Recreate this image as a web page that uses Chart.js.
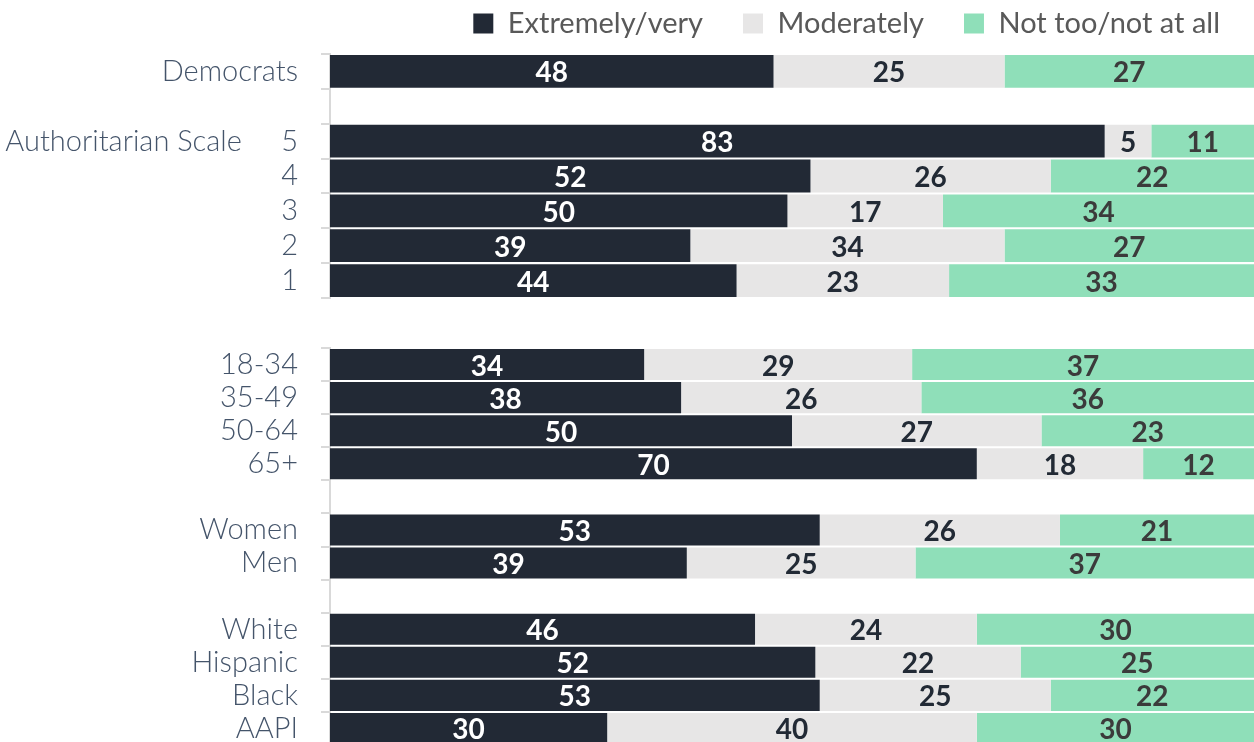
<!DOCTYPE html>
<html>
<head>
<meta charset="utf-8">
<script src="https://cdn.jsdelivr.net/npm/chart.js@4.4.0/dist/chart.umd.min.js"></script>
<style>
  html, body { margin: 0; padding: 0; background: #fff; overflow: hidden; width: 1254px; height: 742px; }
  #top { position: absolute; left: 0; top: -31px; width: 1254px; height: 331px; }
  #bottom { position: absolute; left: 0; top: 347px; width: 1254px; height: 400px; }
</style>
</head>
<body>
<div id="top"><canvas id="chartTop"></canvas></div>
<div id="bottom"><canvas id="chartBottom"></canvas></div>
<script>
// series
const seriesNames = ['Extremely/very', 'Moderately', 'Not too/not at all'];
const seriesColors = ['#222935', '#e7e6e6', '#8fdfb9'];
const valueColors = ['#ffffff', '#222a35', '#3b3b3b'];

// top block: party + authoritarian scale
const topLabels = ['Democrats', '', 'Authoritarian Scale     5', '4', '3', '2', '1'];
const topVery = [48, null, 83, 52, 50, 39, 44];
const topModerately = [25, null, 5, 26, 17, 34, 23];
const topNot = [27, null, 11, 22, 34, 27, 33];

// bottom block: age, gender, race
const bottomLabels = ['18-34', '35-49', '50-64', '65+', '', 'Women', 'Men', '', 'White', 'Hispanic', 'Black', 'AAPI'];
const bottomVery = [34, 38, 50, 70, null, 53, 39, null, 46, 52, 53, 30];
const bottomModerately = [29, 26, 27, 18, null, 26, 25, null, 24, 22, 25, 40];
const bottomNot = [37, 36, 23, 12, null, 21, 37, null, 30, 25, 22, 30];

// 100% stacked: each row is scaled to its own total, labels keep the raw numbers
function makeDatasets(very, moderately, not) {
  const rows = [very, moderately, not];
  return rows.map((vals, s) => ({
    label: seriesNames[s],
    rawValues: vals,
    data: vals.map((v, i) => {
      if (v == null) return null;
      const total = very[i] + moderately[i] + not[i];
      return v / total * 100;
    }),
    backgroundColor: seriesColors[s],
    borderWidth: 0,
    barPercentage: 0.94,
    categoryPercentage: 1
  }));
}

const barValueLabels = {
  id: 'barValueLabels',
  afterDatasetsDraw(chart) {
    const ctx = chart.ctx;
    ctx.save();
    ctx.font = 'bold 28px Lato';
    ctx.textAlign = 'center';
    ctx.textBaseline = 'middle';
    chart.data.datasets.forEach((ds, di) => {
      chart.getDatasetMeta(di).data.forEach((bar, i) => {
        const raw = ds.rawValues[i];
        if (raw == null) return;
        const c = bar.getCenterPoint();
        ctx.fillStyle = valueColors[di];
        ctx.fillText(String(raw), c.x, c.y + 2);
      });
    });
    ctx.restore();
  }
};

// legend sits close to the top and leaves room before the bars
const legendSpacing = {
  id: 'legendSpacing',
  beforeInit(chart) {
    const fit = chart.legend.fit;
    chart.legend.fit = function () {
      fit.call(this);
      this.height = 85;
    };
  },
  afterLayout(chart) {
    chart.legend.left += 6;
    chart.legend.right += 6;
  }
};

function makeOptions(showLegend, padding) {
  return {
    indexAxis: 'y',
    responsive: true,
    maintainAspectRatio: false,
    animation: false,
    layout: { padding: padding },
    plugins: {
      tooltip: { enabled: false },
      legend: {
        display: showLegend,
        position: 'top',
        align: 'end',
        labels: {
          boxWidth: 20,
          boxHeight: 20,
          padding: 40,
          color: '#595959',
          font: { family: 'Lato', size: 29 }
        }
      }
    },
    scales: {
      x: { stacked: true, min: 0, max: 100, display: false },
      y: {
        stacked: true,
        afterFit(scale) {
          scale.width = 330;
          scale.paddingTop = 0;
          scale.paddingBottom = 0;
        },
        grid: { drawOnChartArea: false, offset: true, tickLength: 9, color: '#d9d9d9', lineWidth: 2 },
        border: { display: true, color: '#d9d9d9', width: 2 },
        ticks: {
          autoSkip: false,
          padding: 23,
          color: '#44546a',
          font: { family: 'Lato', size: 29, weight: 300 }
        }
      }
    }
  };
}

new Chart(document.getElementById('chartTop'), {
  type: 'bar',
  data: { labels: topLabels, datasets: makeDatasets(topVery, topModerately, topNot) },
  options: makeOptions(true, { top: 0, bottom: 2, left: 0, right: 0 }),
  plugins: [barValueLabels, legendSpacing]
});

new Chart(document.getElementById('chartBottom'), {
  type: 'bar',
  data: { labels: bottomLabels, datasets: makeDatasets(bottomVery, bottomModerately, bottomNot) },
  options: makeOptions(false, { top: 1, bottom: 2, left: 0, right: 0 }),
  plugins: [barValueLabels]
});
</script>
</body>
</html>
